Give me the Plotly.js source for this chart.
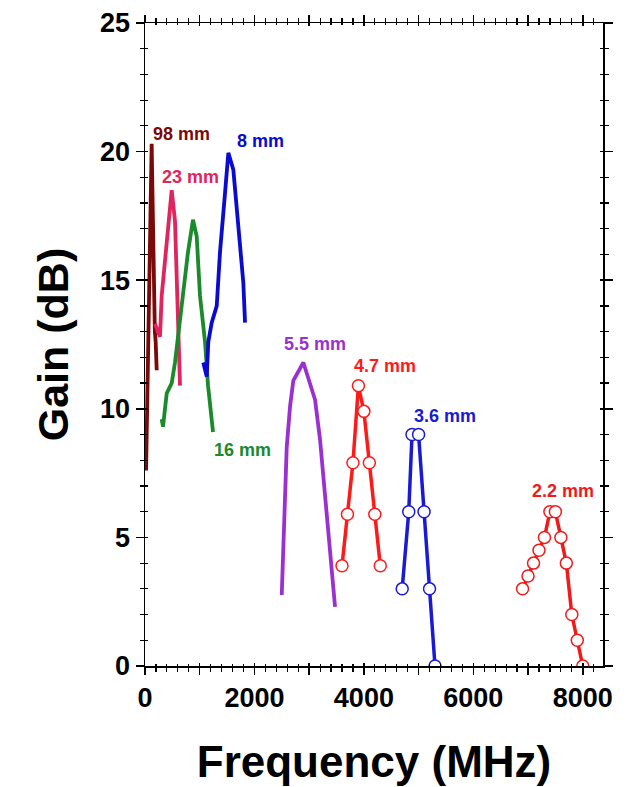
<!DOCTYPE html>
<html>
<head>
<meta charset="utf-8">
<script src="https://cdn.plot.ly/plotly-3.0.1.min.js"></script>
<style>html,body{margin:0;padding:0;background:#fff;}#chart{width:631px;height:787px;}</style>
</head>
<body>
<div id="chart"></div>
<script>
// ---- data (MHz, dB) ----
const f98 = [20, 30, 45, 60, 75, 90, 100, 110, 122, 130, 140, 150, 165, 180, 195, 214];
const g98 = [7.6, 9.0, 10.5, 12.5, 14.5, 16.5, 17.5, 18.5, 20.3, 19.2, 17.8, 16.5, 14.5, 13.0, 12.6, 11.5];

const f23 = [183, 274, 305, 366, 420, 488, 548, 580, 603, 640];
const g23 = [13.3, 12.8, 14.4, 15.8, 17.3, 18.5, 17.3, 15.4, 13.6, 10.9];

const f16 = [305, 329, 397, 488, 548, 603, 695, 786, 877, 945, 1005, 1097, 1152, 1243];
const g16 = [9.6, 9.3, 10.6, 11.0, 11.8, 12.8, 14.4, 16.1, 17.35, 16.7, 14.4, 12.6, 10.9, 9.1];

const f8 = [1066, 1128, 1157, 1219, 1311, 1371, 1463, 1523, 1614, 1676, 1737, 1797, 1828];
const g8 = [11.8, 11.25, 12.6, 13.35, 14.0, 16.1, 18.4, 19.95, 19.3, 17.7, 16.2, 14.9, 13.35];

const f55 = [2499, 2528, 2559, 2590, 2651, 2711, 2894, 3016, 3108, 3199, 3290, 3382, 3473];
const g55 = [2.76, 4.6, 6.46, 8.5, 10.1, 11.1, 11.8, 10.9, 10.35, 8.8, 6.7, 4.6, 2.3];

const f47 = [3600, 3700, 3800, 3900, 4000, 4100, 4200, 4300];
const g47 = [3.9, 5.9, 7.9, 10.9, 9.9, 7.9, 5.9, 3.9];

const f36 = [4700, 4820, 4880, 5000, 5100, 5200, 5300];
const g36 = [3, 6, 9, 9, 6, 3, 0];

const f22 = [6900, 7000, 7100, 7200, 7300, 7400, 7500, 7600, 7700, 7800, 7900, 8000];
const g22 = [3, 3.5, 4, 4.5, 5, 6, 6, 5, 4, 2, 1, 0];

const labels = ["98 mm", "23 mm", "8 mm", "16 mm", "5.5 mm", "4.7 mm", "3.6 mm", "2.2 mm"];
const labelX = [676, 823, 2102, 1773, 3108, 4388, 5484, 7642];
const labelY = [20.7, 19.03, 20.43, 8.4, 12.53, 11.67, 9.73, 6.81];

const xTickVals = [0, 1000, 2000, 3000, 4000, 5000, 6000, 7000, 8000];
const xTickText = ["0", "", "2000", "", "4000", "", "6000", "", "8000"];

// ---- styles ----
const cDarkRed = "#7a0a0a", cCrimson = "#e0245e", cGreen = "#1b8a2c", cBlue = "#0a0ad0",
      cPurple = "#9b30d0", cRed = "#ff1a1a", cBlue2 = "#1a1ad6", cRed2 = "#f01a1a";
const labelColors = [cDarkRed, cCrimson, cBlue, cGreen, cPurple, cRed, cBlue2, cRed2];
const FONT = "Liberation Sans, Arial, Helvetica, sans-serif";

function lineTrace(x, y, color) {
  return {x: x, y: y, type: "scatter", mode: "lines",
          line: {color: color, width: 3.8}, hoverinfo: "skip", showlegend: false};
}
function markTrace(x, y, color) {
  return {x: x, y: y, type: "scatter", mode: "lines+markers",
          line: {color: color, width: 3.5},
          marker: {symbol: "circle", size: 12, color: "white", line: {color: color, width: 1.5}},
          hoverinfo: "skip", showlegend: false};
}

const traces = [
  lineTrace(f98, g98, cDarkRed),
  lineTrace(f23, g23, cCrimson),
  lineTrace(f16, g16, cGreen),
  lineTrace(f8, g8, cBlue),
  lineTrace(f55, g55, cPurple),
  markTrace(f47, g47, cRed),
  markTrace(f36, g36, cBlue2),
  markTrace(f22, g22, cRed2),
  // invisible trace to anchor the inner-tick overlay axes
  {x: [0], y: [0], xaxis: "x2", yaxis: "y2", type: "scatter", mode: "markers",
   marker: {opacity: 0}, hoverinfo: "skip", showlegend: false}
];

const annotations = labels.map((t, i) => ({
  x: labelX[i], y: labelY[i], text: t, showarrow: false,
  font: {family: FONT, size: 18, color: labelColors[i], weight: "bold"},
  xanchor: "center", yanchor: "middle"
}));

const XR = [0, 8370], YR = [0, 25];
const layout = {
  width: 631, height: 787,
  margin: {l: 145, r: 28, t: 23, b: 121},
  paper_bgcolor: "white", plot_bgcolor: "white",
  font: {family: FONT, color: "black"},
  xaxis: {
    range: XR, showgrid: false, zeroline: false,
    showline: true, linecolor: "black", linewidth: 1.5, mirror: "allticks",
    tickmode: "array", tickvals: xTickVals, ticktext: xTickText,
    ticks: "outside", ticklen: 7, tickwidth: 1.5, tickcolor: "black",
    minor: {dtick: 200, ticks: "outside", ticklen: 4, tickwidth: 1.2, tickcolor: "black", showgrid: false},
    tickfont: {family: FONT, size: 27, weight: "bold"},
    title: {text: "Frequency (MHz)", font: {family: FONT, size: 44, weight: "bold"}, standoff: 34}
  },
  yaxis: {
    range: YR, showgrid: false, zeroline: false,
    showline: true, linecolor: "black", linewidth: 1.5, mirror: "allticks",
    tickmode: "linear", tick0: 0, dtick: 5,
    ticks: "outside", ticklen: 8, tickwidth: 1.5, tickcolor: "black",
    minor: {dtick: 1, ticks: "outside", ticklen: 4, tickwidth: 1.2, tickcolor: "black", showgrid: false},
    tickfont: {family: FONT, size: 27, weight: "bold"},
    title: {text: "Gain (dB)", font: {family: FONT, size: 43, weight: "bold"}, standoff: 18}
  },
  xaxis2: {
    overlaying: "x", range: XR, showgrid: false, zeroline: false, showline: false,
    mirror: "allticks", tickmode: "linear", tick0: 0, dtick: 1000,
    ticks: "inside", ticklen: 3, tickwidth: 1.5, tickcolor: "black", showticklabels: false,
    minor: {dtick: 200, ticks: "inside", ticklen: 2, tickwidth: 1.2, tickcolor: "black", showgrid: false}
  },
  yaxis2: {
    overlaying: "y", range: YR, showgrid: false, zeroline: false, showline: false,
    mirror: "allticks", tickmode: "linear", tick0: 0, dtick: 5,
    ticks: "inside", ticklen: 3, tickwidth: 1.5, tickcolor: "black", showticklabels: false,
    minor: {dtick: 1, ticks: "inside", ticklen: 3, tickwidth: 1.2, tickcolor: "black", showgrid: false}
  },
  annotations: annotations,
  showlegend: false
};

Plotly.newPlot("chart", traces, layout, {staticPlot: true, displayModeBar: false});
</script>
</body>
</html>
